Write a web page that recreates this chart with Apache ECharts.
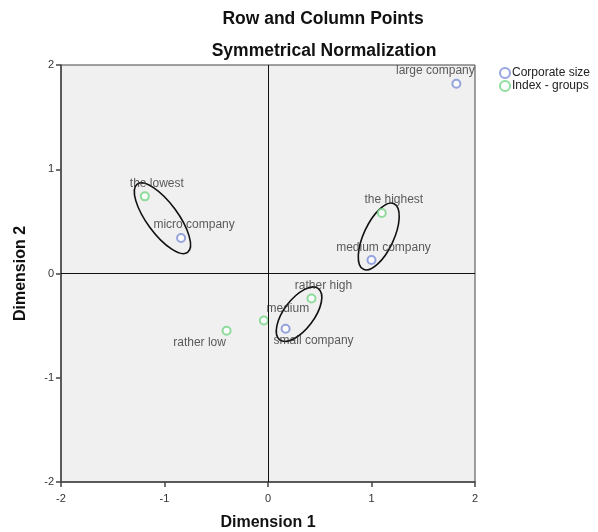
<!DOCTYPE html>
<html>
<head>
<meta charset="utf-8">
<script src="https://cdn.jsdelivr.net/npm/echarts@6/dist/echarts.min.js"></script>
<style>html,body{margin:0;padding:0;background:#fff}#c{width:598px;height:532px}</style>
</head>
<body>
<div id="c"></div>
<script>
// Row points (Corporate size)
const rowNames = ['large company', 'micro company', 'medium company', 'small company'];
const rowX = [1.82, -0.84, 1.00, 0.17];
const rowY = [1.82, 0.34, 0.13, -0.53];
// Column points (Index - groups)
const colNames = ['the lowest', 'the highest', 'rather high', 'medium', 'rather low'];
const colX = [-1.19, 1.10, 0.42, -0.04, -0.40];
const colY = [0.74, 0.58, -0.24, -0.45, -0.55];
// Tick values
const ticks = [-2, -1, 0, 1, 2];
// Ellipses drawn around groups (centre, semi-axes, angle in degrees)
const ellCX = [-1.02, 1.07, 0.30];
const ellCY = [0.53, 0.355, -0.39];
const ellA = [0.41, 0.35, 0.31];
const ellB = [0.15, 0.145, 0.146];
const ellAngle = [-53.6, 65, 53];

// label offsets (styling)
const labelOffset = {
  'large company': [-21, -13], 'micro company': [13, -13], 'medium company': [12, -12],
  'small company': [28, 12], 'the lowest': [12, -13], 'the highest': [12, -13],
  'rather high': [12, -13], 'medium': [24, -12], 'rather low': [-27, 12]
};

const FONT = 'Liberation Sans, Arial, sans-serif';
function pts(names, xs, ys) {
  return names.map((n, i) => ({
    name: n, value: [xs[i], ys[i]],
    label: { offset: labelOffset[n] }
  }));
}
const lbl = { show: true, position: 'inside', formatter: '{b}', color: '#333', fontSize: 12, fontFamily: FONT };

const chart = echarts.init(document.getElementById('c'));
chart.setOption({
  animation: false,
  backgroundColor: '#fff',
  title: [
    { text: 'Row and Column Points', left: 323, top: 10, textAlign: 'center', padding: 0,
      textStyle: { fontFamily: FONT, fontSize: 17.5, fontWeight: 'bold', color: '#111' } },
    { text: 'Symmetrical Normalization', left: 324, top: 42, textAlign: 'center', padding: 0,
      textStyle: { fontFamily: FONT, fontSize: 17.5, fontWeight: 'bold', color: '#111' } }
  ],
  legend: {
    data: ['Corporate size', 'Index - groups'],
    orient: 'vertical', left: 499, top: 67, padding: 0,
    itemWidth: 10, itemHeight: 10, itemGap: 1,
    textStyle: { fontFamily: FONT, fontSize: 12, lineHeight: 12, color: '#222', padding: [0, 0, 0, -3] }
  },
  grid: { left: 61, right: 123, top: 65, bottom: 50, show: true, backgroundColor: '#f0f0f0',
          borderColor: '#444', borderWidth: 1, outerBoundsMode: 'none', containLabel: false },
  xAxis: {
    type: 'value', min: -2, max: 2, interval: 1,
    name: 'Dimension 1', nameLocation: 'middle', nameGap: 33,
    nameTextStyle: { fontFamily: FONT, fontSize: 16, fontWeight: 'bold', color: '#111' },
    axisLine: { onZero: false, lineStyle: { color: '#444', width: 1.5 } },
    axisTick: { show: true, length: 5, lineStyle: { color: '#444', width: 1.5 } },
    axisLabel: { fontFamily: FONT, fontSize: 11, color: '#333', margin: 11 },
    splitLine: { show: false }
  },
  yAxis: {
    type: 'value', min: -2, max: 2, interval: 1,
    name: 'Dimension 2', nameLocation: 'middle', nameGap: 32,
    nameTextStyle: { fontFamily: FONT, fontSize: 16, fontWeight: 'bold', color: '#111' },
    axisLine: { onZero: false, lineStyle: { color: '#444', width: 1.5 } },
    axisTick: { show: true, length: 5, lineStyle: { color: '#444', width: 1.5 } },
    axisLabel: { fontFamily: FONT, fontSize: 11, color: '#333', margin: 7 },
    splitLine: { show: false }
  },
  series: [
    {
      type: 'custom', name: 'ellipses', silent: true, z: 3,
      data: ellCX.map((c, i) => [c, ellCY[i], ellA[i], ellB[i], ellAngle[i]]),
      encode: { x: 0, y: 1 },
      renderItem: function (params, api) {
        const c = api.coord([api.value(0), api.value(1)]);
        const a = api.size([api.value(2), 0])[0];
        const b = api.size([api.value(3), 0])[0];
        return {
          type: 'ellipse', x: c[0], y: c[1], rotation: api.value(4) * Math.PI / 180,
          shape: { cx: 0, cy: 0, rx: a, ry: b },
          style: { fill: 'none', stroke: '#111', lineWidth: 1.6 }
        };
      }
    },
    {
      name: 'Corporate size', type: 'scatter', symbol: 'emptyCircle', symbolSize: 8, z: 4,
      itemStyle: { color: '#7d8ed6', borderWidth: 1.5 },
      label: lbl,
      data: pts(rowNames, rowX, rowY),
      markLine: {
        silent: true, symbol: 'none', label: { show: false },
        lineStyle: { color: '#111', width: 1, type: 'solid' },
        data: [{ xAxis: 0 }, { yAxis: 0 }]
      }
    },
    {
      name: 'Index - groups', type: 'scatter', symbol: 'emptyCircle', symbolSize: 8, z: 4,
      itemStyle: { color: '#74d584', borderWidth: 1.5 },
      label: lbl,
      data: pts(colNames, colX, colY)
    }
  ]
});
</script>
</body>
</html>
